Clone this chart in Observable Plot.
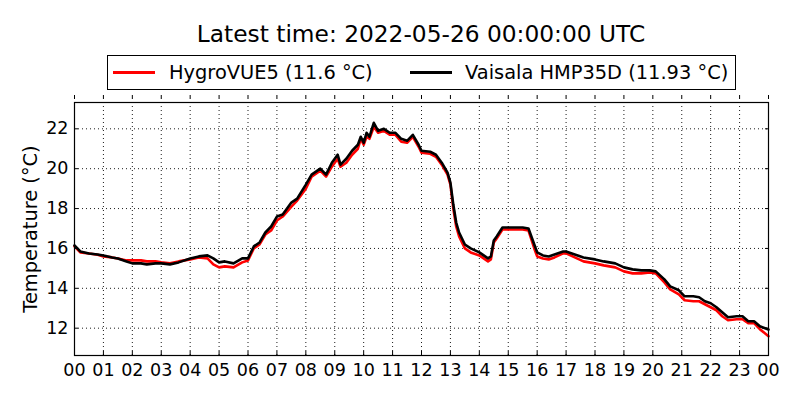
<!DOCTYPE html>
<html>
<head>
<meta charset="utf-8">
<script src="https://cdn.jsdelivr.net/npm/d3@7"></script>
<script src="https://cdn.jsdelivr.net/npm/@observablehq/plot@0.6"></script>
<style>
  html, body { margin: 0; padding: 0; background: #fff; }
  #wrap { position: relative; width: 800px; height: 400px; font-family: "DejaVu Sans", sans-serif; color: #000; }
  #title { position: absolute; left: 0; width: 842px; top: 19px; text-align: center; font-size: 23.3px; line-height: 30px; }
  #legend { position: absolute; left: 107px; top: 55px; width: 629px; height: 35px; border: 1px solid #000; box-sizing: border-box; font-size: 19.4px; }
  .item { position: absolute; top: 0; height: 34px; line-height: 33px; white-space: nowrap; }
  .swatch { position: absolute; top: 15px; height: 3px; width: 42px; }
  #chart { position: absolute; left: 0; top: 95px; }
</style>
</head>
<body>
<div id="wrap">
  <div id="title"></div>
  <div id="legend"></div>
  <div id="chart"></div>
</div>
<script>
const titleText = "Latest time: 2022-05-26 00:00:00 UTC";
const seriesNames = ["HygroVUE5 (11.6 °C)", "Vaisala HMP35D (11.93 °C)"];
const seriesColors = ["#ff0000", "#000000"];
const yLabel = "Temperature (°C)";

const hours = [0,0.2,0.5,0.8,1.0,1.3,1.5,1.8,2.0,2.3,2.5,2.8,3.0,3.3,3.6,4.0,4.3,4.6,4.8,5.0,5.2,5.5,5.8,6.0,6.2,6.4,6.6,6.8,7.0,7.2,7.5,7.7,8.0,8.2,8.4,8.5,8.7,8.9,9.1,9.2,9.4,9.6,9.8,9.9,10.0,10.1,10.2,10.35,10.5,10.7,10.9,11.1,11.3,11.5,11.7,11.9,12.0,12.3,12.5,12.7,12.9,13.0,13.1,13.2,13.3,13.5,13.7,14.0,14.2,14.3,14.4,14.5,14.6,14.8,15.0,15.5,15.7,15.9,16.0,16.2,16.4,16.6,16.9,17.0,17.3,17.6,18.0,18.3,18.7,19.0,19.3,19.6,19.9,20.1,20.4,20.6,20.9,21.1,21.4,21.6,21.8,22.0,22.2,22.4,22.6,22.9,23.1,23.3,23.5,23.7,24.0];

const hygroVUE5 = [16.1,15.8,15.75,15.68,15.6,15.55,15.5,15.4,15.4,15.4,15.35,15.35,15.3,15.25,15.35,15.45,15.55,15.5,15.2,15.05,15.1,15.05,15.3,15.4,16.0,16.2,16.7,16.9,17.4,17.6,18.1,18.4,19.0,19.6,19.8,19.9,19.6,20.1,20.5,20.1,20.3,20.7,21.0,21.5,21.2,21.6,21.5,22.1,21.8,21.9,21.7,21.7,21.35,21.3,21.6,21.1,20.8,20.75,20.6,20.2,19.7,19.2,18.0,17.1,16.6,16.0,15.8,15.65,15.45,15.35,15.45,16.3,16.5,16.95,16.95,16.95,16.9,16.0,15.6,15.5,15.45,15.55,15.75,15.75,15.55,15.35,15.25,15.15,15.05,14.85,14.75,14.75,14.8,14.75,14.3,13.95,13.7,13.4,13.35,13.35,13.2,13.05,12.9,12.6,12.4,12.45,12.45,12.25,12.25,11.95,11.6];

const vaisalaHMP35D = [16.15,15.85,15.75,15.7,15.65,15.55,15.5,15.35,15.25,15.25,15.2,15.25,15.25,15.2,15.3,15.5,15.6,15.65,15.5,15.3,15.35,15.25,15.5,15.5,16.1,16.3,16.8,17.1,17.6,17.7,18.3,18.5,19.2,19.7,19.9,20.0,19.7,20.3,20.7,20.2,20.5,20.9,21.2,21.6,21.3,21.8,21.6,22.3,21.9,22.0,21.8,21.8,21.5,21.4,21.7,21.2,20.9,20.85,20.7,20.3,19.8,19.3,18.2,17.3,16.8,16.2,16.0,15.8,15.6,15.5,15.6,16.4,16.6,17.05,17.05,17.05,17.0,16.2,15.8,15.65,15.6,15.7,15.85,15.85,15.7,15.55,15.45,15.35,15.25,15.05,14.95,14.9,14.9,14.85,14.45,14.1,13.9,13.6,13.6,13.55,13.35,13.25,13.05,12.8,12.55,12.6,12.6,12.35,12.35,12.1,11.93];

const xTicks = d3.range(0, 25);
const xTickLabels = ["00","01","02","03","04","05","06","07","08","09","10","11","12","13","14","15","16","17","18","19","20","21","22","23","00"];
const yTicks = [12, 14, 16, 18, 20, 22];

document.getElementById("title").textContent = titleText;
const legend = document.getElementById("legend");
const itemPos = [{sw: 5, tx: 61}, {sw: 302, tx: 357}];
seriesNames.forEach((name, i) => {
  const sw = document.createElement("div");
  sw.className = "swatch";
  sw.style.left = itemPos[i].sw + "px";
  sw.style.background = seriesColors[i];
  legend.appendChild(sw);
  const it = document.createElement("div");
  it.className = "item";
  it.style.left = itemPos[i].tx + "px";
  it.textContent = name;
  legend.appendChild(it);
});

const redData = hours.map((h, i) => ({h, v: hygroVUE5[i]}));
const blackData = hours.map((h, i) => ({h, v: vaisalaHMP35D[i]}));

const chart = Plot.plot({
  width: 800,
  height: 305,
  marginLeft: 74,
  marginRight: 32,
  marginTop: 7,
  marginBottom: 45,
  style: {fontFamily: "DejaVu Sans, sans-serif", fontSize: "16px", color: "#000", background: "#fff"},
  x: {domain: [0, 24]},
  y: {domain: [10.63, 23.32]},
  marks: [
    Plot.gridX(xTicks, {stroke: "#000", strokeOpacity: 1, strokeWidth: 0.9, strokeDasharray: "1,3"}),
    Plot.gridY(yTicks, {stroke: "#000", strokeOpacity: 1, strokeWidth: 0.9, strokeDasharray: "1,3"}),
    Plot.line(redData, {x: "h", y: "v", stroke: seriesColors[0], strokeWidth: 2.6, curve: "linear"}),
    Plot.line(blackData, {x: "h", y: "v", stroke: seriesColors[1], strokeWidth: 2.6, curve: "linear"}),
    Plot.axisX(xTicks, {anchor: "bottom", tickSize: 0, tickPadding: 8, fontSize: 17.5, tickFormat: (d, i) => xTickLabels[i], label: null}),
    Plot.axisX(xTicks, {anchor: "bottom", tickSize: 4, dy: -4, tickFormat: () => "", label: null}),
    Plot.axisX(xTicks, {anchor: "top", tickSize: 4, dy: -4, tickFormat: () => "", label: null}),
    Plot.axisY(yTicks, {anchor: "left", tickSize: 0, tickPadding: 6, fontSize: 17.5, label: null}),
    Plot.axisY(yTicks, {anchor: "left", tickSize: 4, dx: 4, tickFormat: () => "", label: null}),
    Plot.axisY(yTicks, {anchor: "right", tickSize: 4, dx: -4, tickFormat: () => "", label: null}),
    Plot.frame({stroke: "#000", strokeWidth: 1.2}),
    Plot.text([yLabel], {frameAnchor: "left", dx: -44, rotate: -90, textAnchor: "middle", fontSize: 19.4, text: d => d})
  ]
});
document.getElementById("chart").appendChild(chart);
</script>
</body>
</html>
